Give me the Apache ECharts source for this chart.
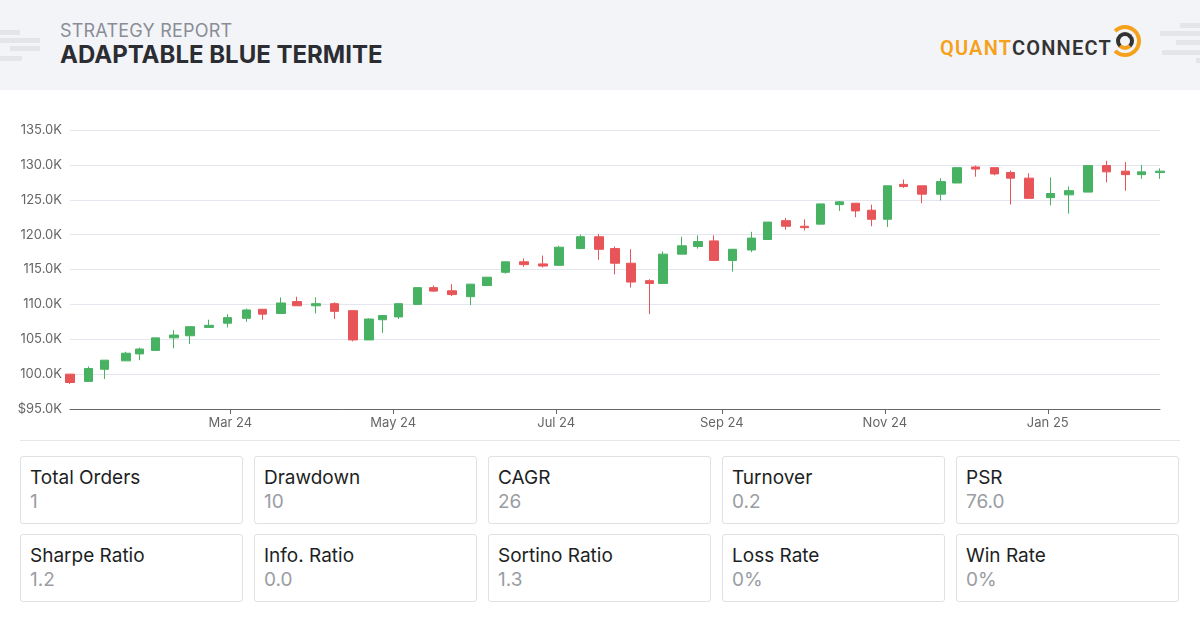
<!DOCTYPE html>
<html>
<head>
<meta charset="utf-8">
<title>Strategy Report</title>
<script src="https://cdn.jsdelivr.net/npm/echarts@6/dist/echarts.min.js"></script>
<style>
  body { margin: 0; width: 1200px; height: 632px; background: #fff; font-family: Inter, "Noto Sans", sans-serif; overflow: hidden; position: relative; }
  .head { position: absolute; left: 0; top: 0; width: 1200px; height: 90px; background: #f3f4f7; }
  .sub { position: absolute; left: 60px; top: 20px; font-size: 18px; color: #8a8d96; letter-spacing: 0.2px; }
  .title { position: absolute; left: 60px; top: 40px; font-size: 24px; font-weight: 700; color: #2b2d33; }
  .logo { position: absolute; left: 940px; top: 36px; font-size: 20px; font-weight: 600; letter-spacing: 1.2px; font-family: Roboto, sans-serif; }
  .logo .q { color: #f5a11c; } .logo .c { color: #333; }
  .ring { position: absolute; left: 1109px; top: 25px; width: 24px; height: 24px; border: 4px solid #f5a11c; border-radius: 50%; border-left-color: transparent; }
  .ring2 { position: absolute; left: 1116px; top: 32px; width: 10px; height: 10px; border: 4px solid #333; border-radius: 50%; border-bottom-color: #f5a11c; }
  .deco { position: absolute; height: 5px; background: #e4e5e9; }
  #chart { position: absolute; left: 0; top: 90px; width: 1200px; height: 350px; }
  .sep { position: absolute; left: 20px; top: 440px; width: 1160px; height: 1px; background: #e6e7ea; }
  .card { position: absolute; width: 221px; height: 66px; border: 1px solid #dfe1e5; border-radius: 3px; }
  .card .l { position: absolute; left: 9px; top: 9px; font-size: 19px; color: #1d1f24; }
  .card .v { position: absolute; left: 9px; top: 33px; font-size: 19px; color: #9a9ca3; }
</style>
</head>
<body>
<div class="head">
  <div class="deco" style="left:0;top:30px;width:20px"></div>
  <div class="deco" style="left:0;top:38px;width:40px"></div>
  <div class="deco" style="left:10px;top:46px;width:30px"></div>
  <div class="deco" style="left:0;top:56px;width:22px"></div>
  <div class="deco" style="left:1180px;top:23px;width:20px"></div>
  <div class="deco" style="left:1160px;top:31px;width:40px"></div>
  <div class="deco" style="left:1176px;top:40px;width:24px"></div>
  <div class="deco" style="left:1162px;top:50px;width:38px"></div>
  <div class="deco" style="left:1196px;top:58px;width:4px"></div>
  <div class="sub">STRATEGY REPORT</div>
  <div class="title">ADAPTABLE BLUE TERMITE</div>
  <div class="logo"><span class="q">QUANT</span><span class="c">CONNECT</span></div>
  <div class="ring"></div><div class="ring2"></div>
</div>
<div id="chart"></div>
<div class="sep"></div>
<div id="cards"></div>
<script>
// candle dates as day offsets from the first candle (Jan 1 2024)
const startDate = [2024, 0, 1];
const days = [0, 7, 13, 21, 26, 32, 39, 45, 52, 59, 66, 72, 79, 85, 92, 99, 106, 112, 117, 123,
  130, 136, 143, 150, 156, 163, 170, 177, 183, 191, 198, 204, 210, 217, 222, 229, 235, 241, 248, 255,
  261, 268, 275, 281, 288, 294, 300, 306, 312, 319, 326, 332, 339, 346, 352, 359, 367, 374, 381, 388,
  395, 401, 408];
// values in thousands
const opens = [100.0, 98.95, 100.7, 101.9, 102.9, 103.4, 105.2, 105.5, 106.7, 107.3, 108.0, 109.3, 108.7, 110.4, 109.8, 110.1, 109.1, 104.9, 107.8, 108.2,
  110.0, 112.4, 111.95, 111.1, 112.7, 114.6, 116.1, 115.8, 115.6, 118.0, 119.7, 118.0, 115.9, 113.4, 113.0, 117.2, 118.3, 119.1, 116.3, 117.8,
  119.3, 122.0, 121.2, 121.5, 124.3, 124.5, 123.5, 122.2, 127.2, 127.0, 125.8, 127.4, 129.7, 129.6, 128.9, 128.1, 125.3, 125.7, 126.1, 129.9,
  129.1, 128.6, 128.9];
const closes = [98.8, 100.8, 102.0, 103.0, 103.6, 105.2, 105.6, 106.8, 107.0, 108.1, 109.2, 108.6, 110.2, 109.8, 110.1, 109.0, 104.9, 107.9, 108.4, 110.1,
  112.4, 111.9, 111.4, 112.9, 113.9, 116.1, 115.7, 115.5, 118.2, 119.7, 117.9, 115.9, 113.2, 113.0, 117.2, 118.4, 119.0, 116.3, 117.9, 119.5,
  121.8, 121.2, 121.0, 124.4, 124.7, 123.4, 122.2, 127.0, 126.9, 125.8, 127.6, 129.6, 129.4, 128.7, 128.1, 125.2, 125.9, 126.3, 129.9, 129.0,
  128.6, 129.0, 129.1];
const lows = [98.6, 98.95, 99.3, 101.9, 102.0, 103.4, 103.7, 104.3, 106.7, 106.7, 107.5, 107.8, 108.7, 109.8, 108.7, 107.9, 104.7, 104.9, 105.9, 107.9,
  110.0, 111.8, 111.2, 109.9, 112.7, 114.4, 115.4, 115.3, 115.6, 118.0, 116.4, 114.3, 112.4, 108.6, 113.0, 117.2, 118.0, 116.3, 114.7, 117.5,
  119.3, 120.7, 120.6, 121.5, 123.4, 122.5, 121.2, 121.1, 126.7, 124.5, 124.9, 127.4, 128.3, 128.5, 124.3, 125.2, 124.2, 123.0, 126.1, 127.5,
  126.3, 128.0, 128.0];
const highs = [100.0, 101.1, 102.0, 103.2, 103.8, 105.2, 106.3, 106.8, 107.8, 108.6, 109.4, 109.3, 111.0, 111.1, 111.0, 110.3, 109.1, 108.0, 108.4, 110.1,
  112.4, 112.7, 112.9, 112.9, 113.9, 116.1, 116.6, 117.0, 118.4, 120.0, 120.1, 118.3, 117.9, 113.6, 117.6, 119.7, 119.9, 119.9, 117.9, 120.4,
  121.8, 122.4, 122.2, 124.4, 124.8, 124.5, 124.3, 127.0, 127.9, 127.0, 128.1, 129.6, 129.9, 129.6, 129.2, 128.8, 128.2, 126.9, 129.9, 130.6,
  130.4, 130.0, 129.5];
const tickDates = [[2024, 2, 1], [2024, 4, 1], [2024, 6, 1], [2024, 8, 1], [2024, 10, 1], [2025, 0, 1]];
const cardLabels = ['Total Orders', 'Drawdown', 'CAGR', 'Turnover', 'PSR', 'Sharpe Ratio', 'Info. Ratio', 'Sortino Ratio', 'Loss Rate', 'Win Rate'];
const cardValues = ['1', '10', '26', '0.2', '76.0', '1.2', '0.0', '1.3', '0%', '0%'];

const months = ['Jan', 'Feb', 'Mar', 'Apr', 'May', 'Jun', 'Jul', 'Aug', 'Sep', 'Oct', 'Nov', 'Dec'];
const t0 = new Date(startDate[0], startDate[1], startDate[2]).getTime();
const times = days.map(d => t0 + d * 86400000);
const data = times.map((t, i) => [t, opens[i] * 1000, closes[i] * 1000, lows[i] * 1000, highs[i] * 1000]);
const ticks = tickDates.map(d => new Date(d[0], d[1], d[2]).getTime());

const chart = echarts.init(document.getElementById('chart'));
chart.setOption({
  animation: false,
  grid: { left: 70, right: 40, top: 40, bottom: 31 },
  xAxis: {
    type: 'value', min: times[0], max: times[times.length - 1],
    axisLine: { lineStyle: { color: '#666' } },
    axisTick: { customValues: ticks, length: 5, lineStyle: { color: '#666' } },
    axisLabel: {
      customValues: ticks, color: '#666', fontSize: 13, fontFamily: 'Inter',
      formatter: v => { const d = new Date(v); return months[d.getMonth()] + ' ' + String(d.getFullYear()).slice(2); }
    },
    splitLine: { show: false }
  },
  yAxis: {
    type: 'value', min: 95000, max: 135000, interval: 5000,
    axisLabel: {
      color: '#666', fontSize: 13, fontFamily: 'Inter', margin: 8,
      formatter: v => (v < 100000 ? '$' : '') + (v / 1000).toFixed(1) + 'K'
    },
    splitLine: { lineStyle: { color: '#e3e6ef' } },
    axisLine: { show: false }, axisTick: { show: false }
  },
  series: [{
    type: 'candlestick', data: data, barWidth: 9,
    itemStyle: { color: '#48b263', color0: '#e85558', borderColor: '#48b263', borderColor0: '#e85558', borderWidth: 1 }
  }]
});

const cards = document.getElementById('cards');
cardLabels.forEach((l, i) => {
  const c = document.createElement('div');
  c.className = 'card';
  c.style.left = (20 + (i % 5) * 234) + 'px';
  c.style.top = (456 + Math.floor(i / 5) * 78) + 'px';
  c.innerHTML = '<div class="l">' + l + '</div><div class="v">' + cardValues[i] + '</div>';
  cards.appendChild(c);
});
</script>
</body>
</html>
